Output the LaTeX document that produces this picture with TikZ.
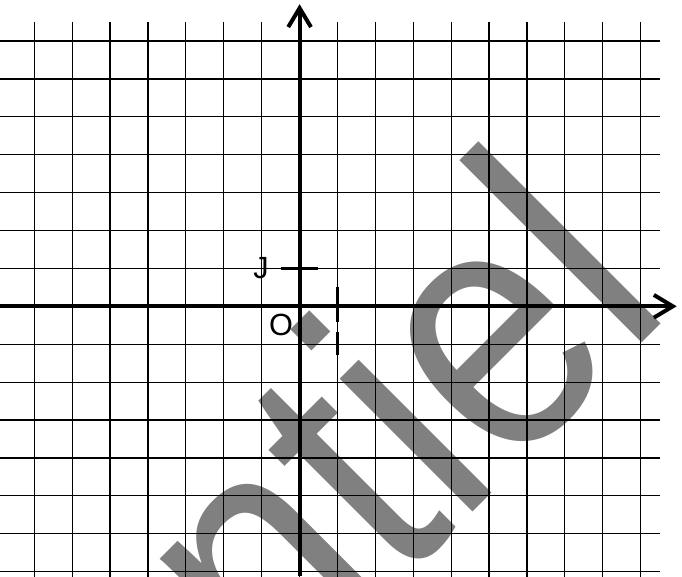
\documentclass[tikz,border=0pt]{standalone}
\usepackage{fontspec}
\setmainfont{Liberation Sans}
\usetikzlibrary{arrows.meta,positioning}
\tikzset{gridline/.style={line width=0.9pt},
  axis/.style={line width=3pt, -{Straight Barb[length=5mm,width=6mm]}},
  tickmark/.style={line width=2.6pt},
  lbl/.style={inner sep=0pt, font=\fontsize{23}{23}\selectfont},
  wmark/.style={inner sep=0pt, text=gray, font=\fontsize{267}{267}\selectfont}}

\begin{document}
\begin{tikzpicture}
  \useasboundingbox (-7.905,-7.116) rectangle (10.09,8.082);
  \clip (-7.905,-7.116) rectangle (10.09,8.082);

  % watermark behind the grid
  \node[wmark, rotate=45, anchor=base east] (wm) at (9.92,-0.08) {\scalebox{0.86}[1]{Confidentiel}};

  \draw[gridline] (-8,-7.5) grid (9.5,7.5);

  \coordinate (xl) at (-7.905,0);
  \coordinate (xr) at (9.95,0);
  \coordinate (yb) at (0,-7.116);
  \coordinate (yt) at (0,7.97);
  \draw[axis] (xl) -- (xr);
  \draw[axis] (yb) -- (yt);

  % unit marks
  \coordinate (Jw) at (-0.49,1);
  \coordinate (Je) at (0.48,1);
  \coordinate (In) at (1,0.5);
  \coordinate (Is) at (1,-1.29);
  \draw[tickmark] (Jw) -- (Je);
  \draw[tickmark, dash pattern=on 0.92cm off 0.27cm] (In) -- (Is);

  \node[lbl] (labJ) at (-1.02,1.01) {J};
  \node[lbl] (labO) at (-0.49,-0.49) {O};
\end{tikzpicture}
\end{document}
